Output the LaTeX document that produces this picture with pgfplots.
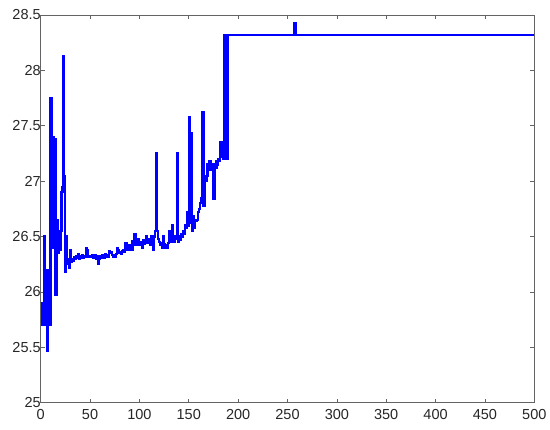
\documentclass[border=0pt]{standalone}
\usepackage{pgfplots}
\pgfplotsset{compat=1.18}
\usepackage{fontspec}
\setmainfont{Liberation Sans}
\definecolor{axgray}{RGB}{100,100,100}
\definecolor{mblue}{RGB}{0,0,255}
\begin{document}
\begin{tikzpicture}
\begin{axis}[
  at={(0pt,0pt)}, anchor=south west,
  scale only axis, width=493.6pt, height=387.7pt,
  xmin=0, xmax=500, ymin=25, ymax=28.5,
  xtick={0,50,...,500},
  ytick={25,25.5,26,26.5,27,27.5,28,28.5},
  tick align=inside, xtick pos=both, ytick pos=both,
  major tick length=4pt,
  axis line style={axgray, line width=0.9pt},
  tick style={axgray, line width=0.6pt},
  ticklabel style={font=\fontsize{14.5}{16}\selectfont, text=black!85},
  /pgf/number format/assume math mode=true,
  yticklabel style={/pgf/number format/fixed, xshift=3.5pt},
  xticklabel style={yshift=-3.5pt},
]
\addplot[mblue, line width=2.2pt, line join=miter, const plot] coordinates {
(0,25.7)(1,25.9)(2,25.7)(3,26.5)(4,25.7)(5,26.2)(6,25.47)(7,25.7)(8,26.2)(9,25.7)
(10,27.75)(11,26.4)(12,27.4)(13,26.4)(14,27.38)(15,25.97)(16,26.65)(17,26.35)(18,26.5)(19,26.38)
(20,26.55)(21,26.9)(22,26.95)(23,28.13)(24,27.05)(25,26.18)(26,26.5)(27,26.25)(28,26.3)(29,26.22)
(30,26.38)(31,26.27)(32,26.3)(33,26.28)(34,26.31)(35,26.3)(36,26.32)(37,26.31)(38,26.34)(39,26.3)
(40,26.32)(41,26.31)(42,26.33)(43,26.31)(44,26.32)(45,26.32)(46,26.4)(47,26.38)(48,26.32)(49,26.32)
(50,26.32)(51,26.32)(52,26.33)(53,26.31)(54,26.32)(55,26.33)(56,26.3)(57,26.32)(58,26.25)(59,26.3)
(60,26.32)(61,26.31)(62,26.33)(63,26.32)(64,26.31)(65,26.34)(66,26.32)(67,26.33)(68,26.32)(69,26.37)
(70,26.35)(71,26.36)(72,26.33)(73,26.32)(74,26.33)(75,26.32)(76,26.34)(77,26.4)(78,26.38)(79,26.35)
(80,26.36)(81,26.34)(82,26.37)(83,26.38)(84,26.36)(85,26.38)(86,26.44)(87,26.4)(88,26.38)(89,26.39)
(90,26.42)(91,26.4)(92,26.38)(93,26.46)(94,26.42)(95,26.52)(96,26.44)(97,26.42)(98,26.48)(99,26.43)
(100,26.45)(101,26.42)(102,26.44)(103,26.4)(104,26.47)(105,26.43)(106,26.45)(107,26.5)(108,26.44)(109,26.46)
(110,26.48)(111,26.42)(112,26.5)(113,26.45)(114,26.38)(115,26.5)(116,26.55)(117,27.25)(118,26.55)(119,26.48)
(120,26.45)(121,26.42)(122,26.44)(123,26.4)(124,26.5)(125,26.43)(126,26.4)(127,26.42)(128,26.4)(129,26.44)
(130,26.55)(131,26.48)(132,26.45)(133,26.6)(134,26.5)(135,26.45)(136,26.5)(137,26.48)(138,27.25)(139,26.45)
(140,26.5)(141,26.47)(142,26.52)(143,26.5)(144,26.55)(145,26.52)(146,26.6)(147,26.58)(148,26.72)(149,26.6)
(150,27.58)(151,26.62)(152,27.43)(153,26.55)(154,26.68)(155,26.58)(156,26.65)(157,26.64)(158,26.65)(159,26.72)
(160,26.75)(161,26.8)(162,26.85)(163,26.9)(164,27.62)(165,26.78)(166,27.02)(167,27.0)(168,27.05)(169,27.15)
(170,27.12)(171,27.18)(172,27.1)(173,27.15)(174,27.15)(175,26.84)(176,27.15)(177,27.12)(178,27.18)(179,27.15)
(180,27.2)(181,27.18)(182,27.35)(183,27.22)(184,27.35)(185,27.2)(186,28.32)(187,27.2)(188,28.32)(189,27.2)
(190,28.32)(257,28.43)(259,28.32)(500,28.32)
};
\end{axis}
\pgfresetboundingbox
\path (-40.7pt,-27.3pt) rectangle (509.3pt,402.7pt);
\end{tikzpicture}
\end{document}
